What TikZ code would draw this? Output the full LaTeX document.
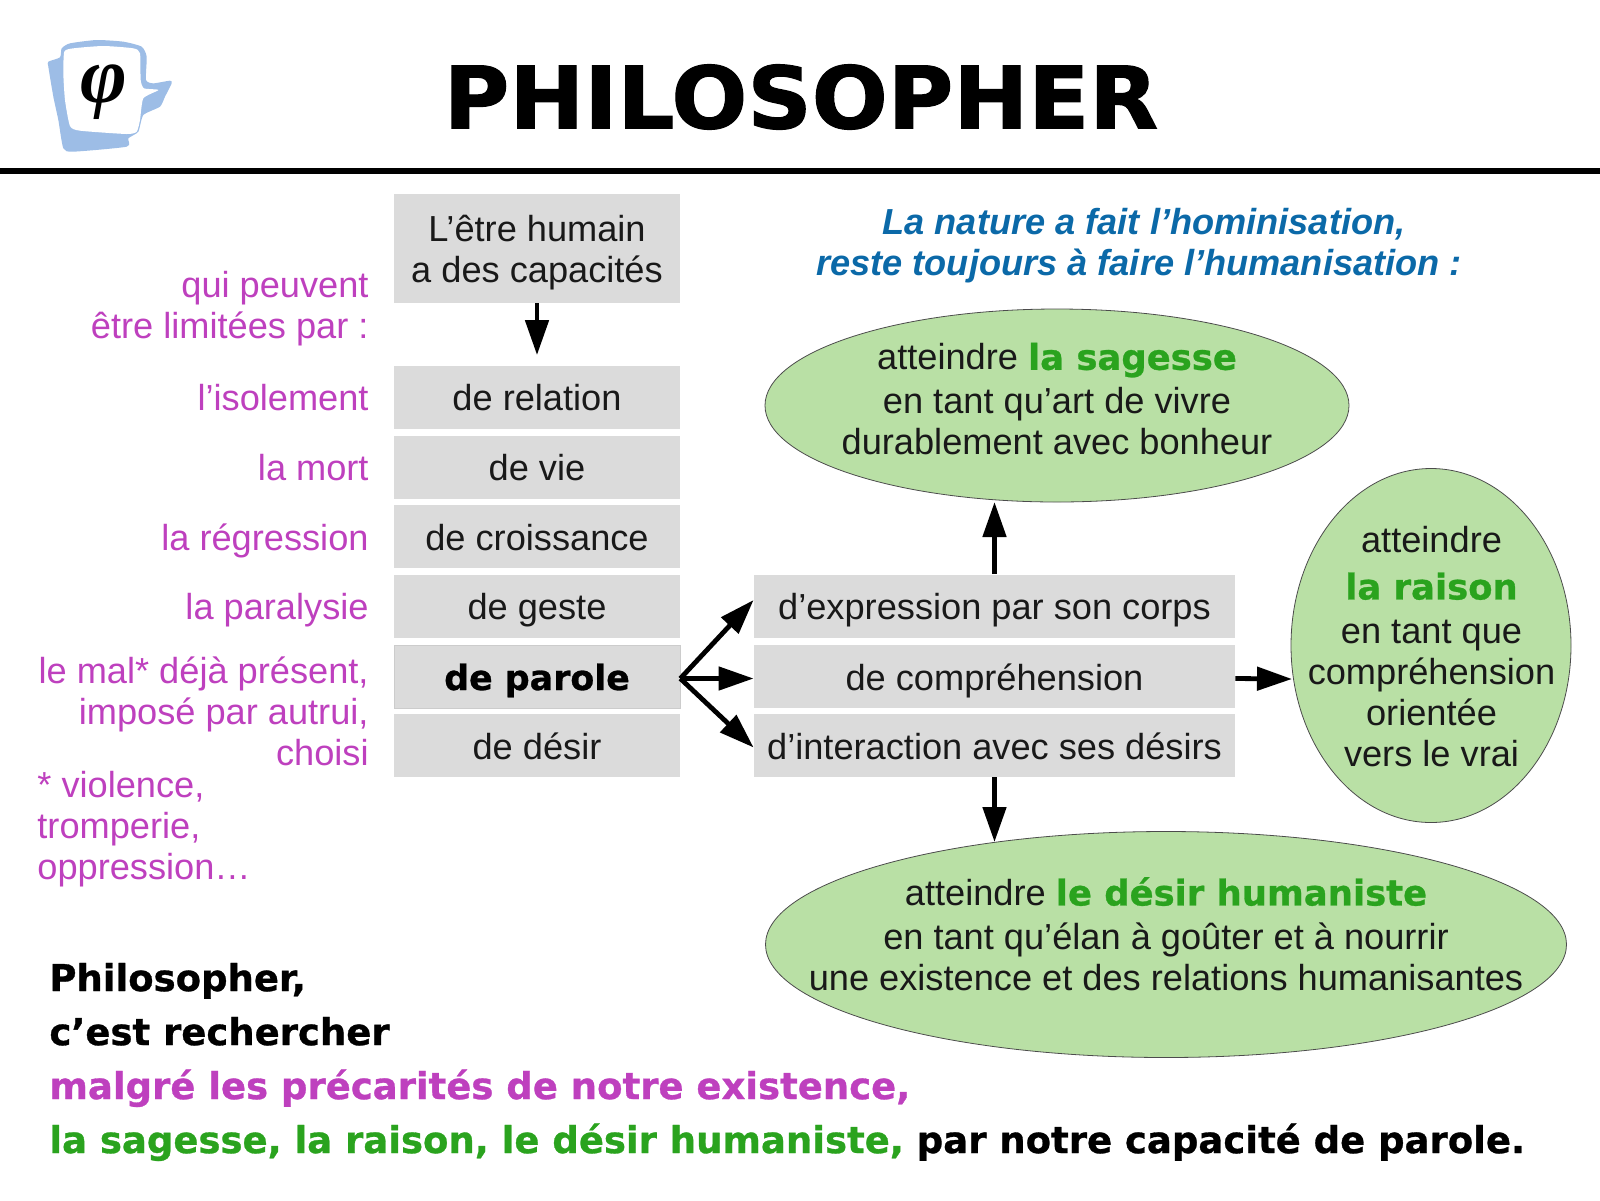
\documentclass[tikz,border=0pt]{standalone}
\usepackage{fontspec}
\setmainfont{Liberation Sans}
\newfontfamily\heavy[FakeBold=0.8]{DejaVu Sans Bold}
\newfontfamily\titlefont[FakeBold=1.3,FakeStretch=1.04]{DejaVu Sans Bold}
\newfontfamily\phifont{Liberation Serif}
\usetikzlibrary{shapes.geometric,arrows.meta}
\definecolor{boxgray}{HTML}{DBDBDB}
\definecolor{mag}{HTML}{BE40BE}
\definecolor{grn}{HTML}{2AA31E}
\definecolor{blu}{HTML}{0B69A8}
\definecolor{ell}{HTML}{B9E0A5}
\definecolor{logob}{HTML}{9DBDE6}
\newcommand{\gr}[1]{{\heavy\fontsize{17.7}{20.5}\selectfont\color{grn}#1}}
\tikzset{
 body/.style={font=\fontsize{18.1}{20.5}\selectfont,text=black!90,inner sep=0pt},
 row/.style={text height=13.5pt,text depth=0pt},
 lbase/.style={body,fill=boxgray,minimum width=143pt,minimum height=31.5pt,align=center},
 lbox/.style={lbase,row},
 rbox/.style={body,row,fill=boxgray,minimum width=240.5pt,minimum height=31.5pt,align=center},
 goal/.style={ellipse,draw=black!70,line width=0.4pt,fill=ell,inner sep=0pt},
 mlabel/.style={body,text=mag,align=right,anchor=east},
 flow/.style={line width=2.4pt,-{Triangle[length=17.5pt,width=11.5pt]}},
}
\begin{document}
\begin{tikzpicture}[x=0.5pt,y=-0.5pt]
\useasboundingbox (0,0) rectangle (1600,1200);
% logo
\begin{scope}[shift={(20,20)},x=0.16667pt,y=-0.16667pt]
\fill[logob] plot[smooth cycle,tension=0.35] coordinates {(85,125)(120,112)(125,85)(150,70)(230,60)(310,65)(365,80)(380,110)(378,180)(400,190)(450,182)(455,190)(435,230)(420,260)(370,285)(355,335)(325,355)(320,380)(160,395)(130,385)(115,300)(100,230)(85,140)};
\fill[white] plot[smooth cycle,tension=0.35] coordinates {(133,95)(160,85)(250,78)(340,85)(360,100)(362,180)(372,205)(415,210)(370,235)(360,300)(350,335)(320,342)(180,332)(150,318)(135,240)(130,160)};
\end{scope}
\node[inner sep=0pt,font={\phifont\bfseries\itshape\fontsize{40}{40}\selectfont}] (phi) at (104,92) {φ};
% title
\node[inner sep=0pt,font={\titlefont\fontsize{43}{50}\selectfont}] (title) at (801,97) {PHILOSOPHER};
\draw[line width=2.6pt] (0,171) -- (1600,171);
% left column
\node[lbase,minimum height=54.5pt] (top) at (537,248.5) {\rule{0pt}{17pt}L’être humain\\a des capacités};
\node[lbox] (rel) at (537,397) {de relation};
\node[lbox] (vie) at (537,467) {de vie};
\node[lbox] (cro) at (537,536.5) {de croissance};
\node[lbox] (ges) at (537,606) {de geste};
\node[lbox,draw=black!20,line width=0.3pt,text=black] (par) at (537,676.5) {\heavy\fontsize{17.4}{20}\selectfont de parole};
\node[lbox] (des) at (537,745.5) {de désir};
% right column
\node[rbox] (exp) at (994.5,606) {d’expression par son corps};
\node[rbox] (com) at (994.5,676.5) {de compréhension};
\node[rbox] (int) at (994.5,745.5) {d’interaction avec ses désirs};
% magenta
\node[mlabel] (m0) at (369,309) {qui peuvent\\être limitées par :};
\node[mlabel,row] (m1) at (369,397) {l’isolement};
\node[mlabel,row] (m2) at (369,467) {la mort};
\node[mlabel,row] (m3) at (369,536.5) {la régression};
\node[mlabel,row] (m4) at (369,606) {la paralysie};
\node[mlabel] (m5) at (369,711) {le mal* déjà présent,\\imposé par autrui,\\choisi};
\node[mlabel,align=left,anchor=west] (m6) at (37,829.5) {* violence,\\tromperie,\\oppression…};
% blue
\node[body,text=blu,font={\fontsize{18.1}{20.5}\selectfont\bfseries\itshape},align=center] (head) at (1139,245.5) {\hspace*{5pt}La nature a fait l’hominisation,\\reste toujours à faire l’humanisation :};
% ellipses
\node[goal,minimum width=292pt,minimum height=96.5pt] (sag) at (1057,405.5) {};
\node[goal,minimum width=140pt,minimum height=177pt] (rai) at (1431,645.5) {};
\node[goal,minimum width=400.5pt,minimum height=113pt] (dsr) at (1166,944.5) {};
\node[body,align=center] (sagt) at (1057,399) {atteindre \gr{la sagesse}\\[1.5pt]en tant qu’art de vivre\\durablement avec bonheur};
\node[body,align=center] (rait) at (1431.5,646.5) {atteindre\\[3pt]\gr{la raison}\\[1.5pt]en tant que\\compréhension\\orientée\\vers le vrai};
\node[body,align=center] (dsrt) at (1166,934) {atteindre \gr{le désir humaniste}\\[1.5pt]en tant qu’élan à goûter et à nourrir\\une existence et des relations humanisantes};
% bottom
\node[anchor=west,inner sep=0pt,align=left,font={\heavy\fontsize{18.5}{27}\selectfont}] (sum) at (49,1062) {Philosopher,\\c’est rechercher\\\textcolor{mag}{malgré les précarités de notre existence,}\\\textcolor{grn}{la sagesse, la raison, le désir humaniste,} par notre capacité de parole.};
% connectors
\coordinate (dtip) at (994.5,842);
\coordinate (utip) at (994.5,502);
\coordinate (rtip) at (1292,679);
\draw[flow,shorten >=5pt] (top) -- (rel);
\draw[flow] ([yshift=-1pt]par.east) -- ([yshift=3pt]exp.west);
\draw[flow] ([yshift=-1pt]par.east) -- ([yshift=-1pt]com.west);
\draw[flow] ([yshift=-1pt]par.east) -- ([yshift=-1pt]int.west);
\draw[flow] (exp.north) -- (utip);
\draw[flow] (int.south) -- (dtip);
\draw[flow] ([yshift=-1pt]com.east) -- (rtip);
\end{tikzpicture}
\end{document}
